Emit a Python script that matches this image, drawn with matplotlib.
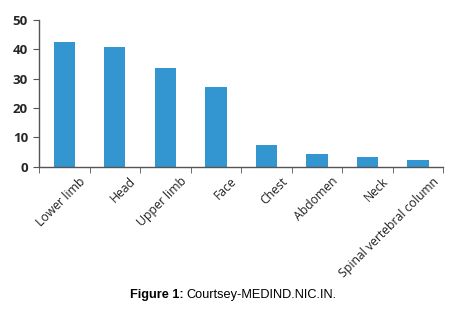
import numpy as np
import matplotlib.pyplot as plt
import matplotlib.transforms as mtransforms

# Data
categories = ['Lower limb', 'Head', 'Upper limb', 'Face', 'Chest', 'Abdomen', 'Neck',
              'Spinal vertebral column']
values = [42.4, 40.7, 33.7, 27.2, 7.2, 4.4, 3.1, 2.3]
yticks = [0, 10, 20, 30, 40, 50]

fig = plt.figure(figsize=(4.55, 3.09), dpi=100)
ax = fig.add_axes([0.086, 0.461, 0.888, 0.474])

x = np.arange(len(categories))
ax.bar(x, values, width=0.42, color='#3396d1')

ax.set_xlim(-0.5, len(categories) - 0.5)
ax.set_ylim(0, 50)
ax.set_yticks(yticks)
ax.set_yticklabels([str(t) for t in yticks], fontsize=9.5, fontweight='bold',
                   family='Open Sans', color='#262626')

# tick marks at category boundaries (Excel style), labels drawn as text
ax.set_xticks([])
ax.set_xticks(np.arange(-0.5, len(categories)), minor=True)
ax.tick_params(axis='x', which='minor', length=4, direction='out', color='#555555')
ax.tick_params(axis='y', length=4, direction='out', color='#555555', pad=4)

# rotated labels, shifted right of the bar centre like Excel does
offset = mtransforms.ScaledTranslation(19 / 100, -13 / 100, fig.dpi_scale_trans)
trans = ax.get_xaxis_transform() + offset
for xi, name in zip(x, categories):
    ax.text(xi, 0, name, transform=trans, rotation=45, ha='right', va='center',
            rotation_mode='anchor', fontsize=8.8, family='Open Sans', color='#222222')

for s in ['top', 'right']:
    ax.spines[s].set_visible(False)
for s in ['left', 'bottom']:
    ax.spines[s].set_color('#555555')
    ax.spines[s].set_linewidth(1)

# caption: bold prefix + regular text
fig.text(0.403, 0.036, 'Figure 1:', ha='right', fontsize=9.2, fontweight='bold',
         family='Liberation Sans')
fig.text(0.409, 0.036, 'Courtsey-MEDIND.NIC.IN.', ha='left', fontsize=9.2,
         family='Liberation Sans')

plt.savefig('out.png', dpi=100)
